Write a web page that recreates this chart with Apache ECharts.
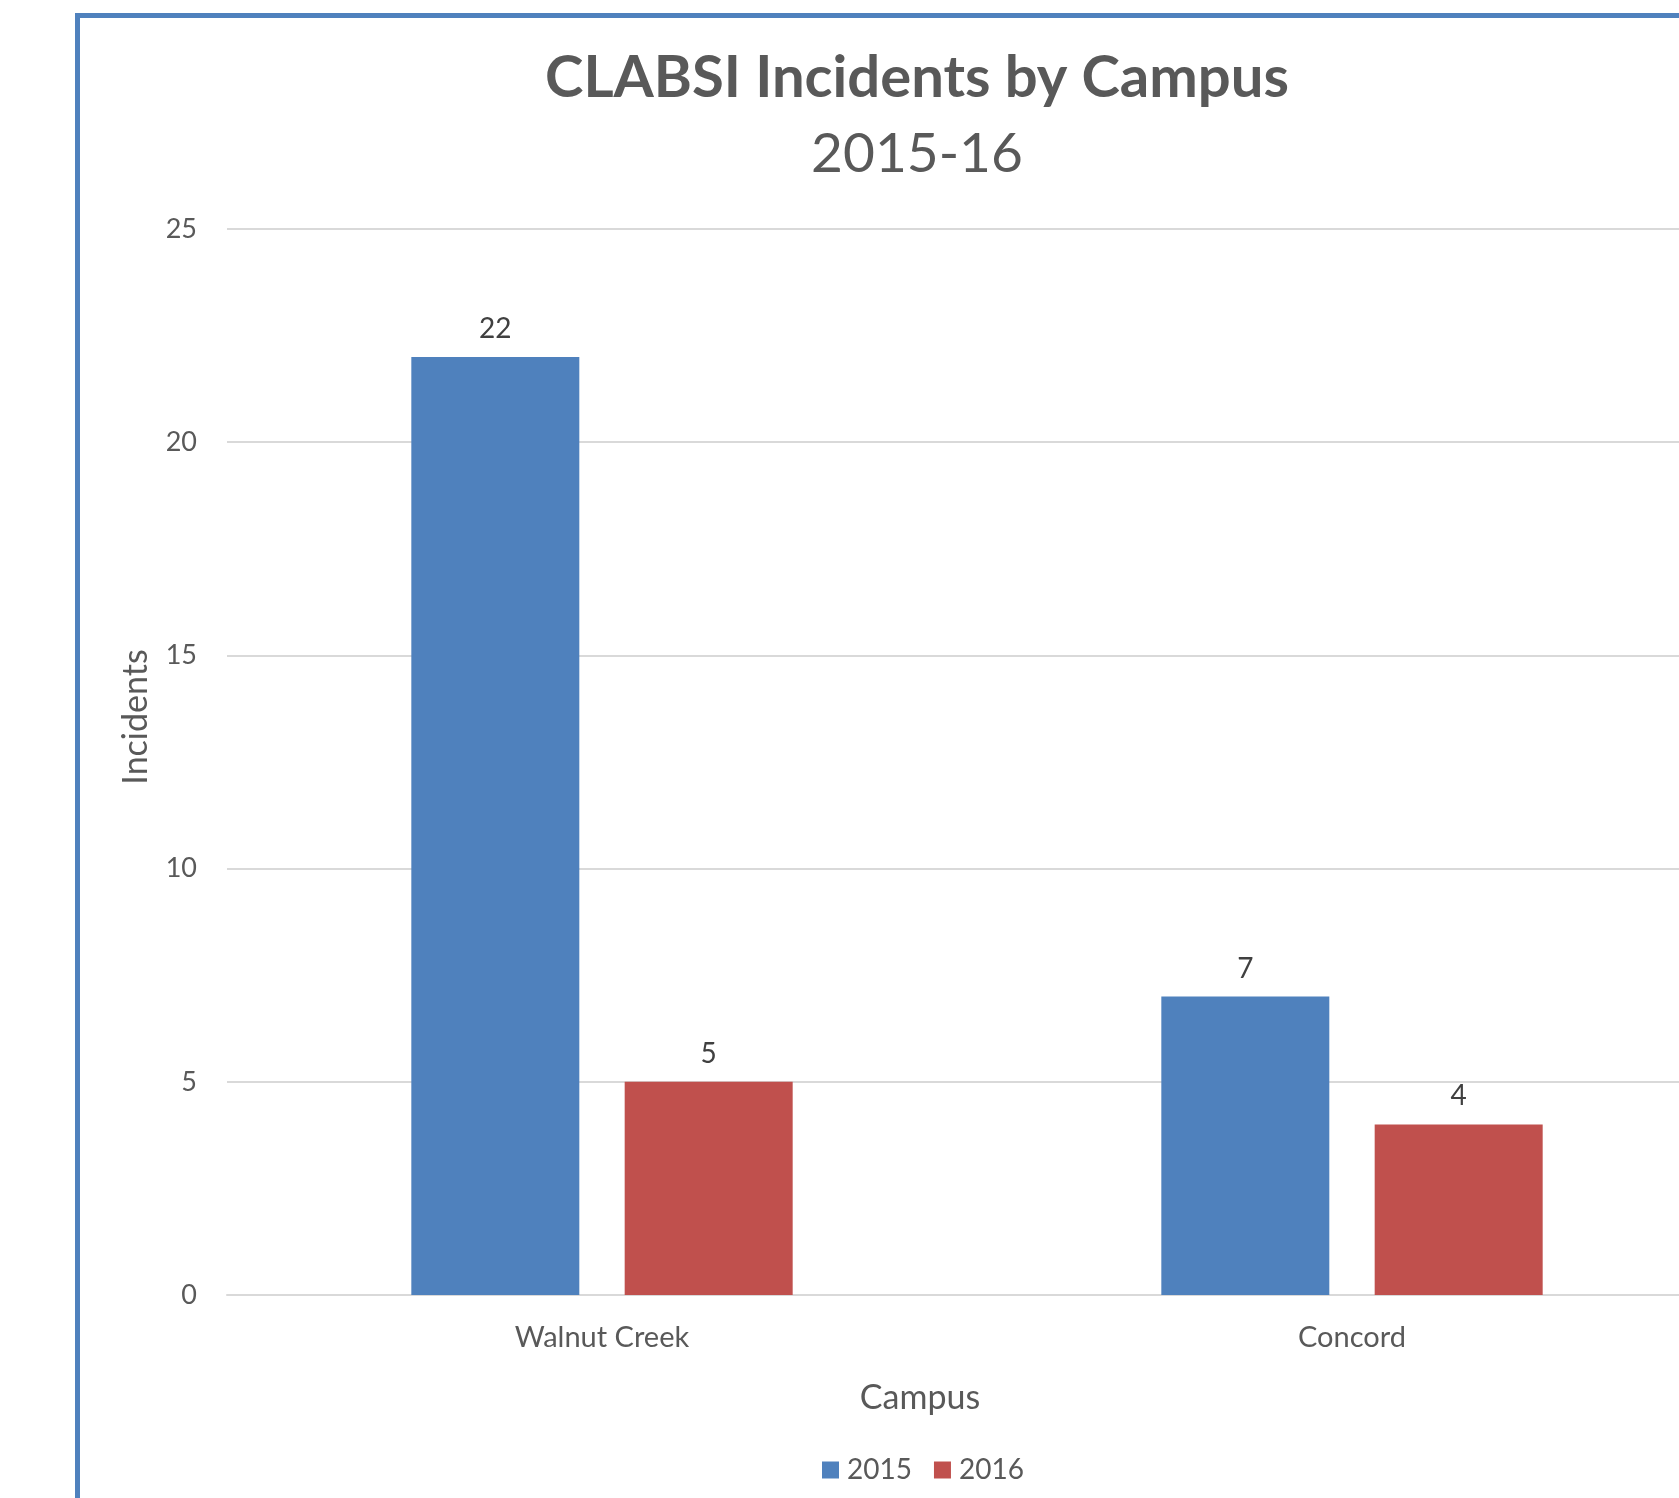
<!DOCTYPE html>
<html>
<head>
<meta charset="utf-8">
<script src="https://cdn.jsdelivr.net/npm/echarts@6/dist/echarts.min.js"></script>
<style>
  html, body { margin: 0; padding: 0; background: #fff; }
  #chart { width: 1679px; height: 1498px; }
</style>
</head>
<body>
<div id="chart"></div>
<script>
  // campus incidents
  var campuses = ['Walnut Creek', 'Concord'];
  var years = ['2015', '2016'];
  var incidents2015 = [22, 7];
  var incidents2016 = [5, 4];
  var yTicks = [0, 5, 10, 15, 20, 25];

  var FONT = 'Lato, "Open Sans", sans-serif';
  var GREY = '#595959';

  var chart = echarts.init(document.getElementById('chart'));

  chart.setOption({
    animation: false,
    backgroundColor: '#fff',
    title: [{
      text: 'CLABSI Incidents by Campus',
      left: 912,
      top: 44,
      textAlign: 'center',
      textStyle: { fontFamily: FONT, fontSize: 58, fontWeight: 'bold', color: GREY }
    }, {
      text: '2015-16',
      left: 912,
      top: 122,
      textAlign: 'center',
      textStyle: { fontFamily: FONT, fontSize: 55, fontWeight: 'normal', color: GREY }
    }],
    graphic: [{
      // outer chart frame, cut off at right and bottom
      type: 'rect',
      shape: { x: 77.5, y: 15.5, width: 2000, height: 2000 },
      style: { fill: 'none', stroke: '#4f81bd', lineWidth: 5 }
    }, {
      type: 'text',
      x: 136,
      y: 717,
      rotation: Math.PI / 2,
      style: {
        text: 'Incidents',
        fontFamily: FONT, fontSize: 34, fill: GREY,
        align: 'center', verticalAlign: 'middle'
      }
    }, {
      type: 'text',
      x: 920,
      y: 1398,
      style: {
        text: 'Campus',
        fontFamily: FONT, fontSize: 34, fill: GREY,
        align: 'center', verticalAlign: 'middle'
      }
    }],
    legend: {
      data: years,
      left: 817,
      top: 1451,
      icon: 'rect',
      itemWidth: 17,
      itemHeight: 17,
      itemGap: 22,
      textStyle: { fontFamily: FONT, fontSize: 28, color: GREY, padding: [0, 0, 0, 3] }
    },
    grid: { left: 227, top: 229, width: 1500, height: 1066, containLabel: false, outerBoundsMode: 'none' },
    xAxis: {
      type: 'category',
      data: campuses,
      axisLine: { lineStyle: { color: '#d9d9d9', width: 2 } },
      axisTick: { show: false },
      axisLabel: { fontFamily: FONT, fontSize: 29, color: GREY, margin: 28 }
    },
    yAxis: {
      type: 'value',
      min: yTicks[0],
      max: yTicks[yTicks.length - 1],
      interval: yTicks[1] - yTicks[0],
      axisLine: { show: false },
      axisTick: { show: false },
      axisLabel: { fontFamily: FONT, fontSize: 27, color: GREY, margin: 30 },
      splitLine: { lineStyle: { color: '#d9d9d9', width: 2 } }
    },
    series: [{
      name: years[0],
      type: 'bar',
      data: incidents2015,
      barWidth: 168,
      barGap: '27%',
      itemStyle: { color: '#4f81bd' },
      label: { show: true, position: 'top', distance: 14, fontFamily: FONT, fontSize: 28, color: '#404040' }
    }, {
      name: years[1],
      type: 'bar',
      data: incidents2016,
      barWidth: 168,
      itemStyle: { color: '#c0504d' },
      label: { show: true, position: 'top', distance: 14, fontFamily: FONT, fontSize: 28, color: '#404040' }
    }]
  });
</script>
</body>
</html>
